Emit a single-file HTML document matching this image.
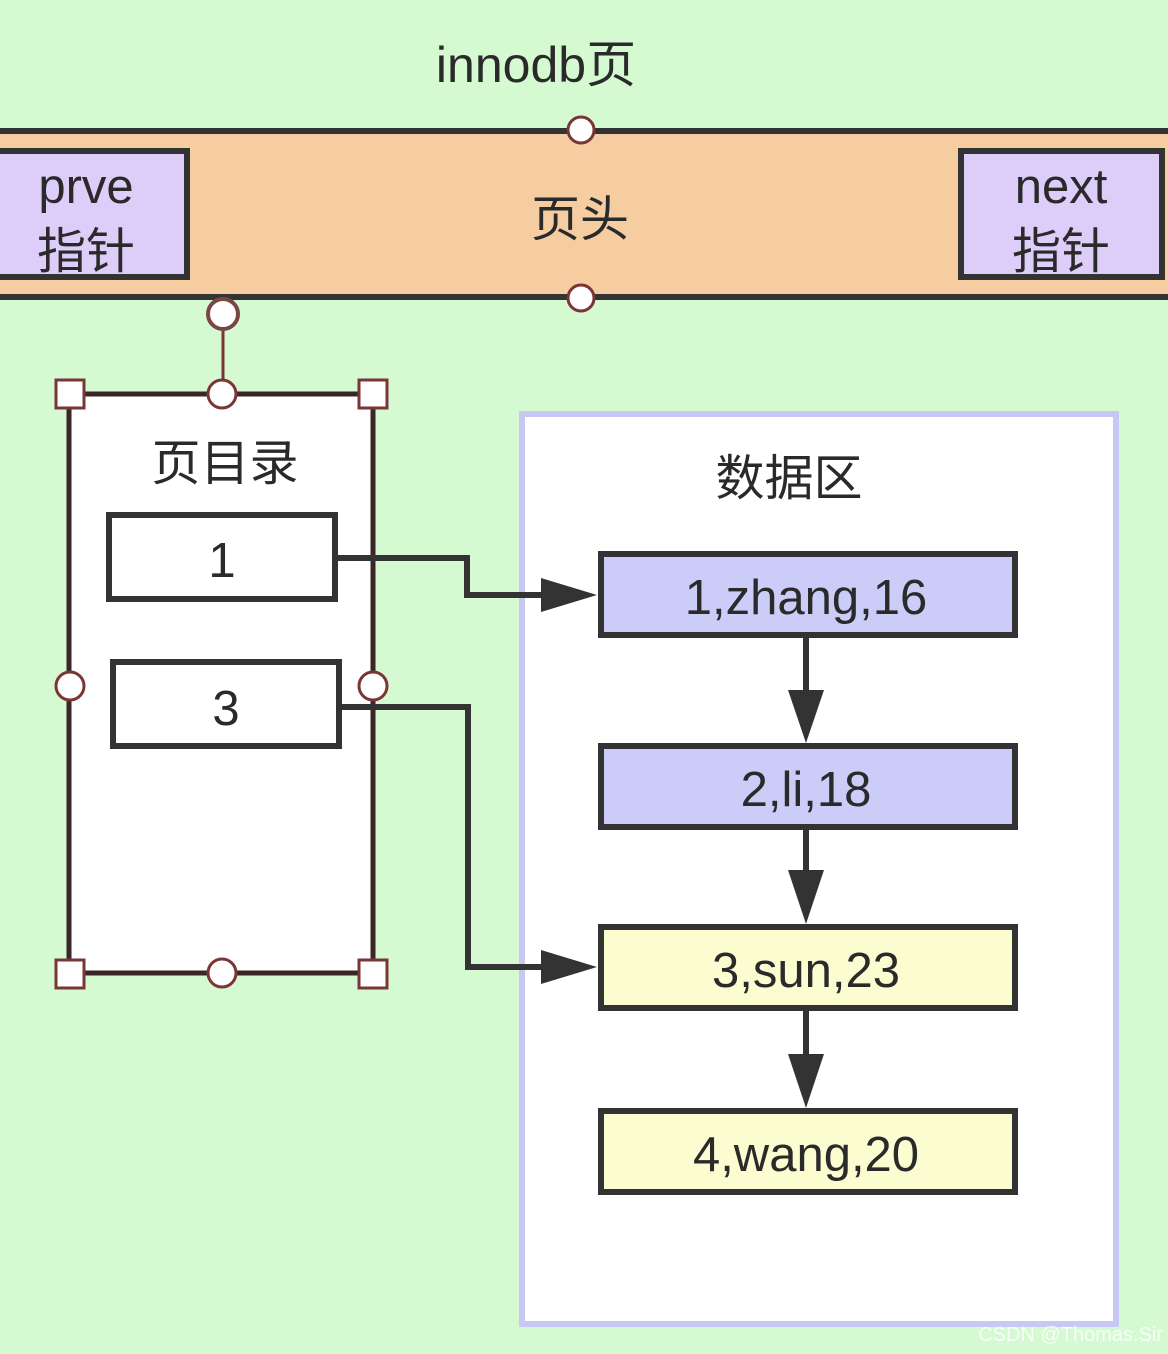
<!DOCTYPE html>
<html><head><meta charset="utf-8"><style>
html,body{margin:0;padding:0;background:#d5f9d0;}
svg{display:block}
text{font-family:"Liberation Sans","Noto Sans CJK SC",sans-serif;fill:#2a2a2a}
</style></head><body>
<svg width="1168" height="1354" viewBox="0 0 1168 1354">
<rect width="1168" height="1354" fill="#d5f9d0"/>
<text x="536" y="82" font-size="50" text-anchor="middle">innodb页</text>
<rect x="-10" y="131" width="1188" height="166" fill="#f5cda0" stroke="#333" stroke-width="6"/>
<rect x="-10" y="151" width="197" height="126" fill="#dccdf9" stroke="#333" stroke-width="6"/>
<text x="86" y="203" font-size="49" text-anchor="middle">prve</text>
<text x="86" y="268" font-size="49" text-anchor="middle">指针</text>
<rect x="961" y="151" width="201" height="126" fill="#dccdf9" stroke="#333" stroke-width="6"/>
<text x="1061" y="203" font-size="49" text-anchor="middle">next</text>
<text x="1061" y="268" font-size="49" text-anchor="middle">指针</text>
<text x="580" y="236" font-size="49" text-anchor="middle">页头</text>
<circle cx="581" cy="130" r="13" fill="#fff" stroke="#7a3535" stroke-width="3"/>
<circle cx="581" cy="298" r="13" fill="#fff" stroke="#7a3535" stroke-width="3"/>
<rect x="522" y="414" width="594" height="910" fill="#fff" stroke="#c8c8f5" stroke-width="6"/>
<text x="789" y="495" font-size="49" text-anchor="middle">数据区</text>
<line x1="223" y1="315" x2="223" y2="393" stroke="#7a3535" stroke-width="3"/>
<circle cx="223" cy="314" r="15" fill="#fff" stroke="#7a4545" stroke-width="4"/>
<rect x="69" y="394" width="304" height="579" fill="#fff" stroke="#3a2626" stroke-width="5"/>
<text x="225" y="480" font-size="49" text-anchor="middle">页目录</text>
<rect x="109" y="515" width="226" height="84" fill="#fff" stroke="#333" stroke-width="6"/>
<text x="222" y="577" font-size="49" text-anchor="middle">1</text>
<rect x="113" y="662" width="226" height="84" fill="#fff" stroke="#333" stroke-width="6"/>
<text x="226" y="725" font-size="49" text-anchor="middle">3</text>
<rect x="601" y="554" width="414" height="81" fill="#ccccf8" stroke="#333" stroke-width="6"/>
<text x="806" y="614" font-size="49" text-anchor="middle">1,zhang,16</text>
<rect x="601" y="746" width="414" height="81" fill="#ccccf8" stroke="#333" stroke-width="6"/>
<text x="806" y="806" font-size="49" text-anchor="middle">2,li,18</text>
<rect x="601" y="927" width="414" height="81" fill="#fbfdd0" stroke="#333" stroke-width="6"/>
<text x="806" y="987" font-size="49" text-anchor="middle">3,sun,23</text>
<rect x="601" y="1111" width="414" height="81" fill="#fbfdd0" stroke="#333" stroke-width="6"/>
<text x="806" y="1171" font-size="49" text-anchor="middle">4,wang,20</text>
<g stroke="#333" stroke-width="6" fill="none">
<polyline points="338,558 467,558 467,595 545,595"/>
<polyline points="342,707 468,707 468,967 545,967"/>
<line x1="806" y1="638" x2="806" y2="700"/>
<line x1="806" y1="830" x2="806" y2="880"/>
<line x1="806" y1="1011" x2="806" y2="1064"/>
</g>
<g fill="#333">
<polygon points="541,578 597,595 541,612"/>
<polygon points="541,950 597,967 541,984"/>
<polygon points="788,690 824,690 806,743"/>
<polygon points="788,870 824,870 806,924"/>
<polygon points="788,1054 824,1054 806,1108"/>
</g>
<g fill="#fff" stroke="#7a3535" stroke-width="3">
<rect x="56" y="380" width="28" height="28"/>
<rect x="359" y="380" width="28" height="28"/>
<rect x="56" y="960" width="28" height="28"/>
<rect x="359" y="960" width="28" height="28"/>
<circle cx="222" cy="394" r="14"/>
<circle cx="222" cy="973" r="14"/>
<circle cx="70" cy="686" r="14"/>
<circle cx="373" cy="686" r="14"/>
</g>
<text x="1163" y="1341" font-size="20" text-anchor="end" style="fill:#ffffff;opacity:0.85">CSDN @Thomas.Sir</text>
</svg>
</body></html>
